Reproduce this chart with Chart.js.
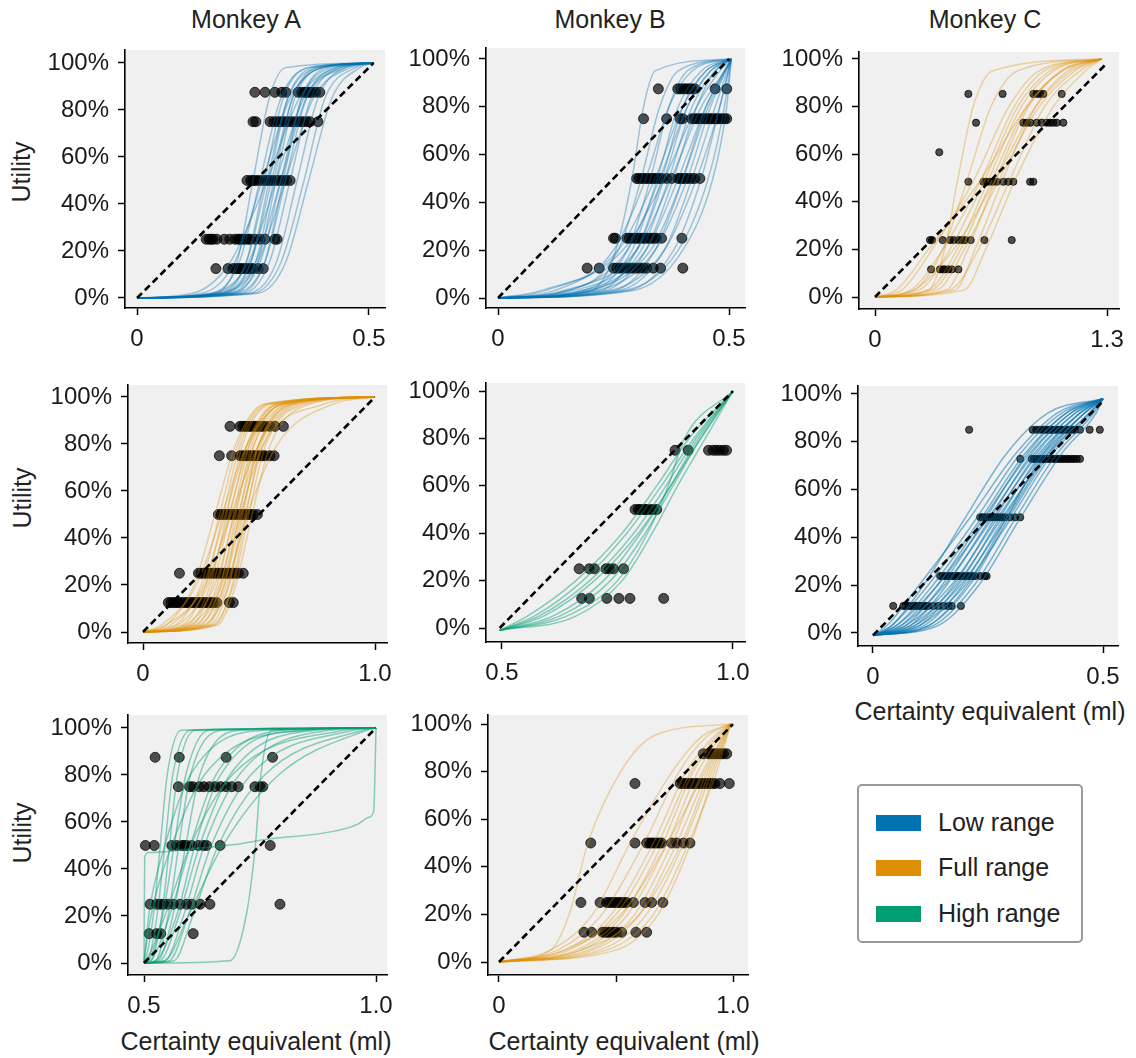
<!DOCTYPE html>
<html>
<head>
<meta charset="utf-8">
<script src="https://cdn.jsdelivr.net/npm/chart.js@4.4.1/dist/chart.umd.min.js"></script>
<style>
  body { margin: 0; background: #fff; }
  #fig { position: relative; width: 1136px; height: 1058px; overflow: hidden;
         font-family: 'Liberation Sans', Arial, sans-serif; color: #222; }
  #fig canvas { position: absolute; }
  .lbl { position: absolute; font-size: 25px; line-height: 30px; white-space: nowrap;
         transform: translate(-50%, -50%); }
  .ylbl { transform: translate(-50%, -50%) rotate(-90deg); }
  #legend { position: absolute; left: 857px; top: 784px; width: 222px; height: 155px;
            border: 2px solid #999; border-radius: 5px; background: #fff; }
  #legend .sw { position: absolute; left: 17px; width: 45px; height: 16px; }
  #legend .tx { position: absolute; left: 79px; font-size: 25px; line-height: 30px; }
</style>
</head>
<body>
<div id="fig">
  <div class="lbl" style="left:246px;top:19px">Monkey A</div>
  <div class="lbl" style="left:610px;top:19px">Monkey B</div>
  <div class="lbl" style="left:985px;top:19px">Monkey C</div>
  <div class="lbl ylbl" style="left:21px;top:172px">Utility</div>
  <div class="lbl ylbl" style="left:22px;top:498px">Utility</div>
  <div class="lbl ylbl" style="left:22px;top:833px">Utility</div>
  <div class="lbl" style="left:990px;top:711px">Certainty equivalent (ml)</div>
  <div class="lbl" style="left:256px;top:1041px">Certainty equivalent (ml)</div>
  <div class="lbl" style="left:624px;top:1041px">Certainty equivalent (ml)</div>
  <div id="legend">
    <div class="sw" style="top:29px;background:#0173b2"></div><div class="tx" style="top:21px">Low range</div>
    <div class="sw" style="top:74px;background:#de8f05"></div><div class="tx" style="top:66px">Full range</div>
    <div class="sw" style="top:120px;background:#029e73"></div><div class="tx" style="top:112px">High range</div>
  </div>
</div>
<script>
// ---- data ----
const yTickValues = [0, 20, 40, 60, 80, 100];
const yTickLabels = ['0%', '20%', '40%', '60%', '80%', '100%'];

// Monkey A, low range (row 1)
const aLowLevels = [2, 15, 50, 85, 98];
const aLowEnds = [[0, 0], [0.51, 100]];
const aLowDiag = [[0, 0], [0.51, 100]];
const aLowCurves = [
  [0.17, 0.215, 0.25, 0.285, 0.32],
  [0.16, 0.22, 0.265, 0.31, 0.37],
  [0.14, 0.21, 0.27, 0.33, 0.40],
  [0.18, 0.235, 0.275, 0.315, 0.37],
  [0.17, 0.235, 0.28, 0.325, 0.39],
  [0.12, 0.20, 0.28, 0.35, 0.43],
  [0.19, 0.245, 0.285, 0.325, 0.38],
  [0.18, 0.245, 0.29, 0.335, 0.40],
  [0.20, 0.255, 0.295, 0.335, 0.39],
  [0.16, 0.24, 0.30, 0.36, 0.44],
  [0.21, 0.26, 0.30, 0.34, 0.40],
  [0.20, 0.265, 0.31, 0.355, 0.42],
  [0.18, 0.255, 0.31, 0.365, 0.45],
  [0.22, 0.275, 0.315, 0.355, 0.41],
  [0.21, 0.275, 0.32, 0.365, 0.43],
  [0.23, 0.285, 0.33, 0.375, 0.44],
  [0.24, 0.30, 0.345, 0.39, 0.45],
  [0.25, 0.31, 0.36, 0.405, 0.47],
  [0.26, 0.32, 0.37, 0.42, 0.48],
  [0.19, 0.26, 0.32, 0.38, 0.46]
];
const aLowPointLevels = [87.5, 75, 50, 25, 12.5];
const aLowPointX = [
  [0.254, 0.276, 0.297, 0.312, 0.321, 0.347, 0.355, 0.362, 0.366, 0.372, 0.377, 0.385, 0.394],
  [0.25, 0.256, 0.287, 0.295, 0.302, 0.309, 0.315, 0.322, 0.33, 0.337, 0.345, 0.352, 0.358, 0.366, 0.373, 0.39],
  [0.237, 0.245, 0.25, 0.255, 0.262, 0.27, 0.278, 0.285, 0.292, 0.30, 0.308, 0.315, 0.322, 0.33],
  [0.149, 0.155, 0.16, 0.164, 0.172, 0.188, 0.2, 0.211, 0.218, 0.222, 0.228, 0.233, 0.24, 0.244, 0.254, 0.265, 0.276, 0.297, 0.302],
  [0.17, 0.196, 0.207, 0.213, 0.218, 0.223, 0.228, 0.234, 0.239, 0.245, 0.25, 0.261, 0.272]
];

// Monkey B, low range (row 1)
const bLowLevels = [3, 20, 50, 80, 95];
const bLowEnds = [[0, 0], [0.505, 100]];
const bLowDiag = [[0, 0], [0.5, 100]];
const bLowCurves = [
  [0.20, 0.255, 0.29, 0.315, 0.34],
  [0.15, 0.26, 0.31, 0.35, 0.39],
  [0.12, 0.25, 0.32, 0.37, 0.42],
  [0.18, 0.28, 0.33, 0.37, 0.41],
  [0.10, 0.26, 0.34, 0.40, 0.45],
  [0.20, 0.29, 0.345, 0.39, 0.44],
  [0.15, 0.28, 0.35, 0.41, 0.46],
  [0.22, 0.30, 0.355, 0.40, 0.45],
  [0.09, 0.27, 0.36, 0.43, 0.48],
  [0.20, 0.31, 0.37, 0.42, 0.47],
  [0.14, 0.30, 0.375, 0.44, 0.49],
  [0.23, 0.32, 0.38, 0.43, 0.47],
  [0.18, 0.32, 0.39, 0.45, null],
  [0.25, 0.34, 0.40, 0.45, 0.49],
  [0.21, 0.34, 0.41, 0.46, null],
  [0.26, 0.36, 0.42, 0.47, null],
  [0.24, 0.36, 0.43, 0.48, null],
  [0.28, 0.38, 0.44, 0.48, null],
  [0.27, 0.39, 0.455, 0.49, null],
  [0.29, 0.40, 0.465, 0.495, null],
  [0.16, 0.30, 0.36, 0.41, 0.46],
  [0.19, 0.33, 0.40, 0.455, null]
];
const bLowPointLevels = [87.5, 75, 50, 25, 12.5];
const bLowPointX = [
  [0.347, 0.389, 0.395, 0.402, 0.408, 0.414, 0.419, 0.426, 0.47, 0.495],
  [0.315, 0.365, 0.394, 0.4, 0.419, 0.425, 0.43, 0.436, 0.441, 0.447, 0.452, 0.458, 0.462, 0.468, 0.473, 0.478, 0.484, 0.49, 0.495],
  [0.30, 0.305, 0.311, 0.316, 0.322, 0.328, 0.333, 0.338, 0.343, 0.349, 0.354, 0.365, 0.376, 0.39, 0.395, 0.40, 0.406, 0.412, 0.419, 0.426, 0.437],
  [0.25, 0.254, 0.279, 0.284, 0.289, 0.295, 0.30, 0.305, 0.311, 0.316, 0.322, 0.328, 0.333, 0.338, 0.343, 0.354, 0.398],
  [0.193, 0.219, 0.25, 0.257, 0.264, 0.272, 0.279, 0.286, 0.293, 0.30, 0.307, 0.315, 0.322, 0.336, 0.352, 0.40]
];

// Monkey C, full range (row 1)
const cFullLevels = [3, 20, 50, 80, 95];
const cFullEnds = [[0, 0], [1.27, 100]];
const cFullDiag = [[0, 0], [1.29, 97.5]];
const cFullCurves = [
  [0.30, 0.39, 0.465, 0.55, 0.66],
  [0.22, 0.38, 0.52, 0.65, 0.80],
  [0.15, 0.32, 0.56, 0.75, 0.92],
  [0.20, 0.38, 0.60, 0.78, 0.95],
  [0.25, 0.42, 0.62, 0.80, 0.98],
  [0.12, 0.30, 0.60, 0.85, 1.05],
  [0.30, 0.46, 0.64, 0.82, 1.00],
  [0.32, 0.48, 0.66, 0.85, 1.05],
  [0.22, 0.44, 0.68, 0.90, 1.10],
  [0.40, 0.52, 0.68, 0.86, 1.04],
  [0.35, 0.50, 0.70, 0.92, 1.12],
  [0.45, 0.56, 0.72, 0.90, 1.08],
  [0.42, 0.58, 0.76, 0.95, 1.15],
  [0.50, 0.62, 0.79, 1.00, 1.18]
];
const cFullPointLevels = [85.3, 73.2, 60.8, 48.4, 23.9, 11.6];
const cFullPointX = [
  [0.523, 0.715, 0.887, 0.906, 0.925, 0.943, 1.046],
  [0.566, 0.831, 0.85, 0.87, 0.906, 0.934, 0.962, 0.981, 0.999, 1.018, 1.055],
  [0.36],
  [0.523, 0.607, 0.626, 0.644, 0.663, 0.682, 0.719, 0.747, 0.775, 0.869, 0.887],
  [0.308, 0.32, 0.379, 0.42, 0.44, 0.467, 0.486, 0.504, 0.536, 0.613, 0.766],
  [0.314, 0.364, 0.38, 0.392, 0.411, 0.43, 0.467]
];

// Monkey A, full range (row 2)
const aFullLevels = [3, 20, 50, 80, 97];
const aFullEnds = [[0, 0], [1.0, 100]];
const aFullDiag = [[0, 0], [1.0, 100]];
const aFullCurves = [
  [0.10, 0.22, 0.31, 0.40, 0.52],
  [0.14, 0.25, 0.33, 0.41, 0.53],
  [0.08, 0.23, 0.34, 0.45, 0.60],
  [0.17, 0.27, 0.345, 0.42, 0.54],
  [0.12, 0.26, 0.355, 0.45, 0.58],
  [0.19, 0.29, 0.36, 0.43, 0.55],
  [0.15, 0.28, 0.37, 0.46, 0.60],
  [0.21, 0.30, 0.375, 0.45, 0.57],
  [0.10, 0.27, 0.38, 0.50, 0.66],
  [0.23, 0.32, 0.39, 0.46, 0.58],
  [0.18, 0.31, 0.395, 0.48, 0.62],
  [0.25, 0.335, 0.40, 0.47, 0.60],
  [0.20, 0.33, 0.41, 0.50, 0.65],
  [0.27, 0.35, 0.415, 0.48, 0.60],
  [0.24, 0.35, 0.425, 0.50, 0.64],
  [0.29, 0.37, 0.43, 0.50, 0.62],
  [0.26, 0.37, 0.44, 0.52, 0.68],
  [0.31, 0.385, 0.445, 0.51, 0.64],
  [0.30, 0.39, 0.455, 0.53, 0.70],
  [0.32, 0.40, 0.47, 0.55, 0.72],
  [0.22, 0.34, 0.42, 0.52, 0.78],
  [0.28, 0.36, 0.45, 0.58, 0.82]
];
const aFullPointLevels = [87.5, 75, 50, 25, 12.5];
const aFullPointX = [
  [0.375, 0.418, 0.43, 0.44, 0.45, 0.461, 0.472, 0.483, 0.494, 0.504, 0.515, 0.526, 0.547, 0.569, 0.605],
  [0.329, 0.382, 0.418, 0.43, 0.44, 0.45, 0.461, 0.472, 0.483, 0.494, 0.504, 0.515, 0.526, 0.547, 0.565],
  [0.325, 0.335, 0.346, 0.357, 0.368, 0.378, 0.389, 0.4, 0.411, 0.421, 0.432, 0.443, 0.454, 0.465, 0.475, 0.493],
  [0.157, 0.239, 0.25, 0.26, 0.271, 0.282, 0.293, 0.303, 0.314, 0.325, 0.335, 0.346, 0.357, 0.368, 0.378, 0.389, 0.40, 0.411, 0.432],
  [0.109, 0.12, 0.131, 0.142, 0.152, 0.163, 0.174, 0.185, 0.196, 0.207, 0.217, 0.228, 0.239, 0.25, 0.26, 0.271, 0.282, 0.293, 0.303, 0.318, 0.372, 0.389]
];

// Monkey B, high range (row 2)
const bHighLevels = [5, 20, 40, 60, 80];
const bHighEnds = [[0.495, -1], [1.0, 100]];
const bHighDiag = [[0.495, 0], [1.0, 100]];
const bHighCurves = [
  [0.555, 0.66, 0.76, 0.835, 0.905],
  [0.57, 0.675, 0.77, 0.845, 0.915],
  [0.58, 0.69, 0.785, 0.855, 0.92],
  [0.59, 0.70, 0.795, 0.865, 0.93],
  [0.61, 0.72, 0.80, 0.865, 0.925],
  [0.625, 0.735, 0.81, 0.87, 0.93],
  [0.64, 0.75, 0.815, 0.86, 0.895],
  [0.66, 0.76, 0.825, 0.88, 0.94]
];
const bHighPointLevels = [75, 50, 25, 12.5];
const bHighPointX = [
  [0.8745, 0.903, 0.947, 0.957, 0.964, 0.971, 0.979, 0.986],
  [0.788, 0.795, 0.799, 0.806, 0.81, 0.813, 0.82, 0.827, 0.835],
  [0.667, 0.689, 0.70, 0.725, 0.732, 0.741, 0.763],
  [0.6725, 0.689, 0.727, 0.753, 0.777, 0.85]
];

// Monkey C, low range (row 2)
const cLowLevels = [3, 20, 48, 75, 92];
const cLowEnds = [[0, -1], [0.5, 98]];
const cLowDiag = [[0, -1], [0.5, 97]];
const cLowCurves = [
  [0.03, 0.10, 0.21, 0.31, 0.40],
  [0.04, 0.12, 0.225, 0.32, 0.41],
  [0.05, 0.13, 0.235, 0.33, 0.42],
  [0.07, 0.15, 0.245, 0.335, 0.42],
  [0.05, 0.14, 0.25, 0.35, 0.44],
  [0.08, 0.16, 0.255, 0.345, 0.43],
  [0.06, 0.155, 0.26, 0.36, 0.45],
  [0.09, 0.175, 0.265, 0.355, 0.44],
  [0.07, 0.17, 0.27, 0.37, 0.46],
  [0.10, 0.185, 0.275, 0.365, 0.45],
  [0.08, 0.18, 0.28, 0.38, 0.47],
  [0.11, 0.195, 0.285, 0.375, 0.46],
  [0.12, 0.21, 0.295, 0.385, 0.47],
  [0.10, 0.20, 0.30, 0.39, 0.475],
  [0.13, 0.22, 0.31, 0.40, 0.48],
  [0.14, 0.23, 0.32, 0.41, 0.485],
  [0.04, 0.11, 0.20, 0.29, 0.38],
  [0.06, 0.14, 0.24, 0.34, 0.43],
  [0.09, 0.19, 0.29, 0.38, 0.46],
  [0.12, 0.205, 0.29, 0.37, 0.45]
];
const cLowPointLevels = [85.0, 72.8, 48.4, 23.8, 11.3];
const cLowPointX = [
  [0.209, 0.347, 0.355, 0.363, 0.37, 0.374, 0.38, 0.385, 0.39, 0.396, 0.402, 0.407, 0.412, 0.417, 0.423, 0.428, 0.433, 0.439, 0.45, 0.471, 0.493],
  [0.32, 0.345, 0.35, 0.356, 0.362, 0.367, 0.372, 0.378, 0.383, 0.388, 0.394, 0.399, 0.405, 0.41, 0.415, 0.421, 0.426, 0.432, 0.437, 0.443, 0.45],
  [0.233, 0.238, 0.243, 0.248, 0.254, 0.259, 0.265, 0.27, 0.276, 0.281, 0.287, 0.298, 0.309, 0.32],
  [0.146, 0.151, 0.157, 0.162, 0.167, 0.173, 0.178, 0.184, 0.189, 0.194, 0.2, 0.205, 0.211, 0.216, 0.222, 0.233, 0.243, 0.247],
  [0.044, 0.066, 0.071, 0.077, 0.082, 0.088, 0.093, 0.099, 0.104, 0.109, 0.115, 0.12, 0.131, 0.142, 0.153, 0.164, 0.171, 0.191]
];

// Monkey A, high range (row 3)
const aHighLevels = [1, 20, 50, 80, 99];
const aHighEnds = [[0.5, 0], [1.0, 100]];
const aHighDiag = [[0.5, 0], [1.0, 100]];
const aHighCurves = [
  [0.503, 0.52, 0.535, 0.55, 0.58],
  [0.508, 0.528, 0.545, 0.562, 0.60],
  [0.515, 0.538, 0.555, 0.572, 0.61],
  [0.51, 0.54, 0.565, 0.59, 0.64],
  [0.525, 0.552, 0.575, 0.60, 0.67],
  [0.53, 0.562, 0.59, 0.62, 0.71],
  [0.515, 0.555, 0.60, 0.655, 0.80],
  [0.525, 0.57, 0.61, 0.665, 0.84],
  [0.535, 0.575, 0.62, 0.685, 0.87],
  [0.545, 0.585, 0.63, 0.705, 0.90],
  [0.505, 0.545, 0.60, 0.69, 0.93],
  [0.555, 0.595, 0.645, 0.73, 0.95],
  [0.565, 0.605, 0.66, 0.76, 0.97],
  [0.545, 0.595, 0.67, 0.79, 0.98],
  [0.5005, 0.51, 0.545, 0.60, 0.76],
  [0.5005, 0.515, 0.56, 0.63, 0.85],
  [0.685, 0.72, 0.74, 0.752, 0.775]
];
// the one fit that jumps to ~45% at once and then creeps along
const aHighOddCurve = [[0.5, 0], [0.5015, 45], [0.51, 47], [0.6, 48.5], [0.7, 50.5], [0.764, 52.6],
  [0.908, 56], [0.96, 59], [0.985, 62], [0.995, 64.5], [1.0, 100]];
const aHighPointLevels = [87.5, 75, 50, 25, 12.5];
const aHighPointX = [
  [0.524, 0.576, 0.677, 0.777],
  [0.574, 0.598, 0.605, 0.619, 0.629, 0.641, 0.653, 0.665, 0.677, 0.689, 0.703, 0.739, 0.75, 0.756],
  [0.503, 0.522, 0.56, 0.57, 0.581, 0.586, 0.592, 0.603, 0.617, 0.628, 0.635, 0.664, 0.772],
  [0.513, 0.527, 0.535, 0.542, 0.552, 0.563, 0.578, 0.592, 0.603, 0.621, 0.642, 0.793],
  [0.511, 0.527, 0.536, 0.606]
];

// Monkey B, full range (row 3)
const bFullLevels = [5, 20, 50, 80, 95];
const bFullEnds = [[0, 0], [0.99, 100]];
const bFullDiag = [[0, 0], [1.0, 100]];
const bFullCurves = [
  [0.22, 0.30, 0.38, 0.52, 0.66],
  [0.22, 0.40, 0.56, 0.74, 0.87],
  [0.25, 0.44, 0.62, 0.77, 0.89],
  [0.28, 0.48, 0.66, 0.80, 0.92],
  [0.30, 0.50, 0.68, 0.82, 0.93],
  [0.33, 0.53, 0.70, 0.83, 0.94],
  [0.35, 0.55, 0.72, 0.85, 0.95],
  [0.38, 0.58, 0.74, 0.87, 0.96],
  [0.40, 0.60, 0.76, 0.89, null],
  [0.43, 0.63, 0.79, 0.91, null],
  [0.46, 0.66, 0.81, 0.93, null],
  [0.28, 0.52, 0.72, 0.88, 0.96],
  [0.35, 0.60, 0.78, 0.90, null],
  [0.50, 0.68, 0.82, 0.92, null]
];
const bFullPointLevels = [87.5, 75, 50, 25, 12.5];
const bFullPointX = [
  [0.873, 0.895, 0.905, 0.916, 0.927, 0.937, 0.948, 0.959, 0.973],
  [0.581, 0.774, 0.785, 0.795, 0.806, 0.816, 0.827, 0.838, 0.848, 0.859, 0.87, 0.88, 0.891, 0.902, 0.912, 0.923, 0.944, 0.984],
  [0.392, 0.581, 0.631, 0.642, 0.652, 0.663, 0.674, 0.685, 0.695, 0.738, 0.759, 0.788, 0.816],
  [0.35, 0.432, 0.46, 0.471, 0.482, 0.493, 0.503, 0.514, 0.524, 0.535, 0.546, 0.574, 0.624, 0.652, 0.70],
  [0.363, 0.396, 0.443, 0.452, 0.46, 0.471, 0.482, 0.493, 0.503, 0.524, 0.585, 0.631]
];

// ---- styling / layout ----
const LOW = 'rgba(1,115,178,0.36)';
const LOW_DENSE = 'rgba(1,115,178,0.5)';
const FULL = 'rgba(222,143,5,0.34)';
const HIGH = 'rgba(2,158,115,0.45)';
const FONT = "'Liberation Sans', Arial, sans-serif";

const panels = [
  { area: [125, 50, 385, 308], x: [-0.0259, 0.5345], y: [-4.26, 105.5], xt: [0, 0.5], xl: ['0', '0.5'],
    levels: aLowLevels, ends: aLowEnds, diag: aLowDiag, curves: aLowCurves, pl: aLowPointLevels, px: aLowPointX, color: LOW, r: 5 },
  { area: [486, 48, 745, 308], x: [-0.026, 0.5346], y: [-4.18, 104.6], xt: [0, 0.5], xl: ['0', '0.5'],
    levels: bLowLevels, ends: bLowEnds, diag: bLowDiag, curves: bLowCurves, pl: bLowPointLevels, px: bLowPointX, color: LOW, r: 5 },
  { area: [859, 52, 1119, 309], x: [-0.0897, 1.367], y: [-5.04, 102.9], xt: [0, 1.3], xl: ['0', '1.3'],
    levels: cFullLevels, ends: cFullEnds, diag: cFullDiag, curves: cFullCurves, pl: cFullPointLevels, px: cFullPointX, color: FULL, r: 3.6 },
  { area: [128, 385, 387, 643], x: [-0.0647, 1.0517], y: [-4.68, 105.1], xt: [0, 1.0], xl: ['0', '1.0'],
    levels: aFullLevels, ends: aFullEnds, diag: aFullDiag, curves: aFullCurves, pl: aFullPointLevels, px: aFullPointX, color: FULL, r: 5 },
  { area: [486, 383, 745, 642], x: [0.4654, 1.026], y: [-5.9, 103.4], xt: [0.5, 1.0], xl: ['0.5', '1.0'],
    levels: bHighLevels, ends: bHighEnds, diag: bHighDiag, curves: bHighCurves, pl: bHighPointLevels, px: bHighPointX, color: HIGH, r: 5 },
  { area: [858, 386, 1118, 646], x: [-0.0326, 0.5326], y: [-5.44, 103.3], xt: [0, 0.5], xl: ['0', '0.5'],
    levels: cLowLevels, ends: cLowEnds, diag: cLowDiag, curves: cLowCurves, pl: cLowPointLevels, px: cLowPointX, color: LOW_DENSE, r: 3.6 },
  { area: [128, 715, 387, 975], x: [0.4655, 1.0237], y: [-5.1, 105.5], xt: [0.5, 1.0], xl: ['0.5', '1.0'],
    levels: aHighLevels, ends: aHighEnds, diag: aHighDiag, curves: aHighCurves, extra: [aHighOddCurve], pl: aHighPointLevels, px: aHighPointX, color: HIGH, r: 5 },
  { area: [488, 715, 748, 975], x: [-0.047, 1.064], y: [-5.46, 103.8], xt: [0, 0.5, 1.0], xl: ['0', '', '1.0'],
    levels: bFullLevels, ends: bFullEnds, diag: bFullDiag, curves: bFullCurves, pl: bFullPointLevels, px: bFullPointX, color: FULL, r: 5 }
];

const plotBg = {
  id: 'plotBg',
  beforeDraw(chart) {
    const a = chart.chartArea;
    const ctx = chart.ctx;
    ctx.save();
    ctx.fillStyle = '#f0f0f0';
    ctx.fillRect(a.left, a.top, a.right - a.left, a.bottom - a.top);
    ctx.restore();
  }
};

function curvePoints(levels, xs, ends) {
  const pts = [{ x: ends[0][0], y: ends[0][1] }];
  xs.forEach((x, i) => { if (x !== null) pts.push({ x: x, y: levels[i] }); });
  pts.push({ x: ends[1][0], y: ends[1][1] });
  return pts;
}

const fig = document.getElementById('fig');
// room around each plot area for the axes; top must exceed half a label plus tick padding
const padL = 100, padT = 30, padR = 34, padB = 50;

panels.forEach((p) => {
  const [L, T, R, B] = p.area;
  const canvas = document.createElement('canvas');
  canvas.width = R - L + padL + padR;
  canvas.height = B - T + padT + padB;
  canvas.style.left = (L - padL) + 'px';
  canvas.style.top = (T - padT) + 'px';
  fig.appendChild(canvas);

  const datasets = [];
  datasets.push({
    type: 'line', order: 0,
    data: p.diag.map(d => ({ x: d[0], y: d[1] })),
    borderColor: '#000', borderWidth: 2.6, borderDash: [7, 4], pointRadius: 0, tension: 0
  });
  const curveStyle = {
    type: 'line', order: 1, borderColor: p.color, borderWidth: 1.5,
    pointRadius: 0, cubicInterpolationMode: 'monotone'
  };
  p.curves.forEach(c => datasets.push(Object.assign({ data: curvePoints(p.levels, c, p.ends) }, curveStyle)));
  (p.extra || []).forEach(c => datasets.push(Object.assign({ data: c.map(d => ({ x: d[0], y: d[1] })) }, curveStyle)));
  const dots = [];
  p.pl.forEach((lvl, i) => p.px[i].forEach(x => dots.push({ x: x, y: lvl })));
  datasets.push({
    type: 'scatter', order: 2, data: dots,
    pointRadius: p.r, pointBackgroundColor: 'rgba(0,0,0,0.68)',
    pointBorderColor: 'rgba(0,0,0,0.72)', pointBorderWidth: 1
  });

  const tickFont = { family: FONT, size: 24 };
  const gridOpts = { drawOnChartArea: false, drawTicks: true, tickLength: 7, tickWidth: 1.5, tickColor: '#000' };
  const borderOpts = { display: true, color: '#000', width: 1.6 };

  new Chart(canvas, {
    type: 'scatter',
    data: { datasets },
    options: {
      responsive: false,
      animation: false,
      devicePixelRatio: 1,
      events: [],
      layout: { padding: { top: padT, right: padR, left: 0, bottom: 0 } },
      plugins: { legend: { display: false }, tooltip: { enabled: false } },
      scales: {
        x: {
          type: 'linear', min: p.x[0], max: p.x[1],
          afterBuildTicks: s => { s.ticks = p.xt.map(v => ({ value: v })); },
          afterFit: s => { s.height = padB; },
          ticks: { callback: (v, i) => p.xl[i], font: tickFont, color: '#1a1a1a', padding: 10, autoSkip: false, maxRotation: 0 },
          grid: gridOpts, border: borderOpts
        },
        y: {
          type: 'linear', min: p.y[0], max: p.y[1],
          afterBuildTicks: s => { s.ticks = yTickValues.map(v => ({ value: v })); },
          afterFit: s => { s.width = padL; },
          ticks: { callback: (v, i) => yTickLabels[i], font: tickFont, color: '#1a1a1a', padding: 9 },
          grid: gridOpts, border: borderOpts
        }
      }
    },
    plugins: [plotBg]
  });
});
</script>
</body>
</html>
